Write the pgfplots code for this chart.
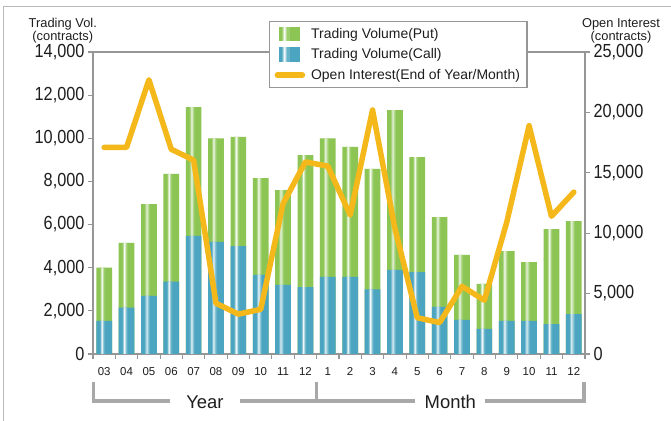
\documentclass[border=0pt]{standalone}
\usepackage{fontspec}
\setmainfont{Liberation Sans}
\newfontfamily\tickfont{Liberation Sans}[FakeStretch=0.86]
\usepackage{pgfplots}
\usepackage{pgfplotstable}
\pgfplotsset{compat=1.18}
\definecolor{putgreen}{RGB}{140,197,84}
\definecolor{callblue}{RGB}{75,165,192}
\definecolor{oiorange}{RGB}{245,184,26}
\definecolor{axisgray}{RGB}{150,150,150}
\definecolor{brgray}{RGB}{168,168,168}
\definecolor{framegray}{RGB}{185,185,185}
\definecolor{txt}{RGB}{30,30,30}
\pgfplotsset{
  basebar/.style={draw=none, fill=#1, bar width=15.7bp, bar shift=0bp},
  strip/.style n args={3}{draw=none, fill=#1!#2!white, bar width=0.95bp, bar shift=#3bp},
}
\newcommand\legpatch[1]{%
  \fill[#1] (2bp,-6.5bp) rectangle (22bp,6.5bp);
  \fill[#1!80!white] (5.5bp,-6.5bp) rectangle (6.6bp,6.5bp);
  \fill[#1!45!white] (6.5bp,-6.5bp) rectangle (7.6bp,6.5bp);
  \fill[#1!5!white] (7.5bp,-6.5bp) rectangle (8.6bp,6.5bp);
  \fill[#1!30!white] (8.5bp,-6.5bp) rectangle (9.6bp,6.5bp);
  \fill[#1!60!white] (9.5bp,-6.5bp) rectangle (10.6bp,6.5bp);
  \fill[#1!85!white] (10.5bp,-6.5bp) rectangle (11.5bp,6.5bp);}
\pgfplotstableread{
x call tot oi
0 1530 4000 17100
1 2150 5150 17100
2 2700 6950 22700
3 3350 8350 16950
4 5480 11450 16050
5 5200 10000 4200
6 5000 10060 3300
7 3670 8150 3700
8 3200 7600 12450
9 3100 9220 15900
10 3570 10000 15550
11 3570 9600 11500
12 3000 8580 20200
13 3900 11300 10400
14 3800 9130 3000
15 2180 6350 2600
16 1580 4590 5600
17 1160 3250 4450
18 1530 4770 10900
19 1530 4260 18900
20 1390 5790 11400
21 1850 6160 13400
}\datatable
\begin{document}
\begin{tikzpicture}
\useasboundingbox (0,0) rectangle (671bp,421bp);
\fill[white] (0,0) rectangle (671bp,421bp);
\draw[framegray, line width=1.2bp] (3.3bp,0) -- (3.3bp,414.3bp) -- (671bp,414.3bp);
\begin{axis}[
  at={(93bp,67bp)}, anchor=south west,
  scale only axis, width=492bp, height=302bp,
  xmin=-0.5, xmax=21.5, ymin=0, ymax=14000,
  ybar,
  axis line style={draw=axisgray, line width=1.3bp, -},
  tick style={draw=axisgray, line width=1.1bp},
  tick align=outside, major tick length=5bp,
  xtick={-0.5,0.5,...,21.5}, xticklabels={},
  extra x ticks={0,1,...,21},
  extra x tick labels={03,04,05,06,07,08,09,10,11,12,1,2,3,4,5,6,7,8,9,10,11,12},
  extra x tick style={major tick length=0pt, xticklabel style={yshift=-10bp}},
  xticklabel style={font=\fontsize{11.5}{11.5}\selectfont, text=txt},
  ytick={0,2000,...,14000}, ytick pos=left, xtick pos=bottom,
  yticklabel style={font=\tickfont\fontsize{19}{19}\selectfont, text=txt},
  /pgf/number format/1000 sep={,},
  /pgf/number format/assume math mode=true,
  scaled y ticks=false,
]
% Put (green) drawn as full bar, Call (blue) drawn over its lower part
\addplot[basebar=putgreen] table[x=x,y=tot]{\datatable};
\addplot[strip={putgreen}{80}{-3.45}] table[x=x,y=tot]{\datatable};
\addplot[strip={putgreen}{45}{-2.65}] table[x=x,y=tot]{\datatable};
\addplot[strip={putgreen}{5}{-1.85}] table[x=x,y=tot]{\datatable};
\addplot[strip={putgreen}{30}{-1.05}] table[x=x,y=tot]{\datatable};
\addplot[strip={putgreen}{60}{-0.25}] table[x=x,y=tot]{\datatable};
\addplot[strip={putgreen}{85}{0.55}] table[x=x,y=tot]{\datatable};
\addplot[basebar=callblue] table[x=x,y=call]{\datatable};
\addplot[strip={callblue}{80}{-3.45}] table[x=x,y=call]{\datatable};
\addplot[strip={callblue}{45}{-2.65}] table[x=x,y=call]{\datatable};
\addplot[strip={callblue}{5}{-1.85}] table[x=x,y=call]{\datatable};
\addplot[strip={callblue}{30}{-1.05}] table[x=x,y=call]{\datatable};
\addplot[strip={callblue}{60}{-0.25}] table[x=x,y=call]{\datatable};
\addplot[strip={callblue}{85}{0.55}] table[x=x,y=call]{\datatable};
\end{axis}
\begin{axis}[
  at={(93bp,67bp)}, anchor=south west,
  scale only axis, width=492bp, height=302bp,
  xmin=-0.5, xmax=21.5, ymin=0, ymax=25000,
  axis x line=none, axis y line*=right,
  axis line style={draw=axisgray, line width=1.3bp, -},
  tick style={draw=axisgray, line width=1.1bp},
  tick align=outside, major tick length=5bp,
  ytick={0,5000,...,25000},
  yticklabel style={font=\tickfont\fontsize{19}{19}\selectfont, text=txt},
  /pgf/number format/1000 sep={,},
  /pgf/number format/assume math mode=true,
  scaled y ticks=false,
  legend style={at={(0.3577,1.1026)}, anchor=north west, draw=axisgray, line width=1.3bp, fill=white,
    inner xsep=5bp, inner ysep=4.5bp, row sep=5bp, column sep=4bp,
    font=\fontsize{14}{14}\selectfont, text=txt, nodes={inner sep=2bp}},
  legend cell align=left,
]
\addlegendimage{legend image code/.code={\legpatch{putgreen}}}
\addlegendentry{Trading Volume(Put)}
\addlegendimage{legend image code/.code={\legpatch{callblue}}}
\addlegendentry{Trading Volume(Call)}
\addplot[oiorange, line width=5.5bp, line join=round, line cap=round,
  legend image code/.code={\draw[oiorange, line width=5.5bp, line cap=round] (0bp,0bp) -- (25bp,0bp);}] table[x=x,y=oi]{\datatable};
\addlegendentry{Open Interest(End of Year/Month)}
\end{axis}
\begin{scope}[font=\fontsize{12.9}{12}\selectfont, text=txt]
\node[anchor=base, inner sep=0] at (62.8bp,393.2bp) {Trading Vol.};
\node[anchor=base, inner sep=0] at (62.8bp,380.8bp) {(contracts)};
\node[anchor=base, inner sep=0] at (621bp,393.2bp) {Open Interest};
\node[anchor=base, inner sep=0] at (621bp,380.8bp) {(contracts)};
\end{scope}
\begin{scope}[brgray, line width=3.3bp]
\draw (93.3bp,38.5bp) -- (93.3bp,20bp) -- (170bp,20bp);
\draw (239.5bp,20bp) -- (415bp,20bp);
\draw (316.7bp,38.5bp) -- (316.7bp,18.35bp);
\draw (485bp,20bp) -- (584bp,20bp) -- (584bp,38.5bp);
\end{scope}
\node[anchor=base, inner sep=0, font=\fontsize{18.5}{18.5}\selectfont, text=txt] at (205bp,12.7bp) {Year};
\node[anchor=base, inner sep=0, font=\fontsize{18.5}{18.5}\selectfont, text=txt] at (450.3bp,12.7bp) {Month};
\end{tikzpicture}
\end{document}
